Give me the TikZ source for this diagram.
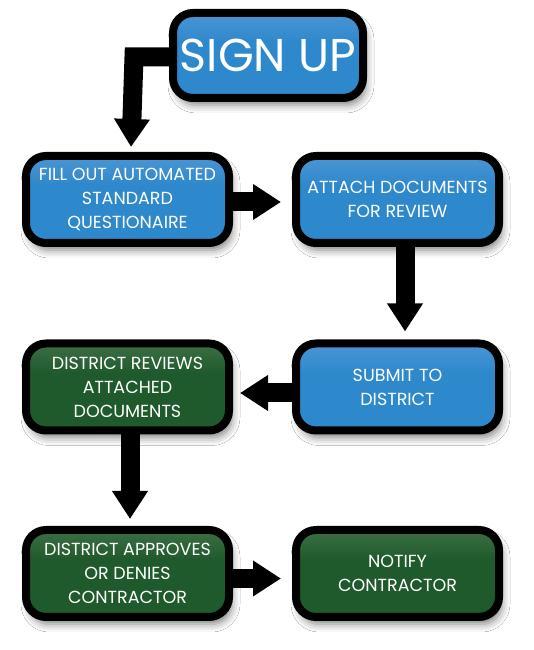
\documentclass[tikz,border=0pt]{standalone}
\usepackage{fontspec}
\setmainfont{Poppins}
\usetikzlibrary{arrows.meta,shadows.blur,calc}
\definecolor{blueD}{HTML}{2E88CC}
\definecolor{blueL}{HTML}{74AADF}
\definecolor{greenD}{HTML}{1F5A2C}
\definecolor{greenL}{HTML}{668E66}
\pgfdeclareverticalshading{blueshade}{100bp}{color(0bp)=(blueD); color(58bp)=(blueD); color(100bp)=(blueL)}
\pgfdeclareverticalshading{greenshade}{100bp}{color(0bp)=(greenD); color(58bp)=(greenD); color(100bp)=(greenL)}
\tikzset{
  box/.style={draw=black, line width=8pt, rounded corners=20pt, minimum width=203pt, minimum height=87pt,
    text=white, align=center, font=\fontsize{17.5}{24}\selectfont, inner xsep=2pt,
    blur shadow={shadow xshift=3pt, shadow yshift=-7pt, shadow blur radius=8pt, shadow opacity=50}},
  bluebox/.style={box, shading=blueshade},
  greenbox/.style={box, shading=greenshade},
  arr/.style={line width=19pt, -{Triangle[length=28pt,width=34pt]}}
}
\begin{document}
\begin{tikzpicture}[x=1pt,y=1pt]
\fill[white] (0,0) rectangle (533,650);
\useasboundingbox (0,0) rectangle (533,650);
\node[bluebox, minimum width=190pt, minimum height=85pt, font=\fontsize{46}{50}\selectfont] (s) at (268,594.5) {SIGN UP};
\node[bluebox] (b1) at (127.5,450.5) {FILL OUT AUTOMATED\\STANDARD\\QUESTIONAIRE};
\node[bluebox] (b2) at (397.5,450.5) {ATTACH DOCUMENTS\\FOR REVIEW};
\node[bluebox] (b3) at (397.5,263) {SUBMIT TO\\DISTRICT};
\node[greenbox] (b4) at (127.5,263) {DISTRICT REVIEWS\\ATTACHED\\DOCUMENTS};
\node[greenbox] (b5) at (127.5,76.5) {DISTRICT APPROVES\\OR DENIES\\CONTRACTOR};
\node[greenbox] (b6) at (397.5,76.5) {NOTIFY\\CONTRACTOR};
\coordinate (k) at (134,593);
\draw[arr, line join=miter] ([yshift=-1.5pt]s.west) -- (k) -- ([xshift=3.5pt,yshift=5pt]b1.north);
\draw[arr] ([yshift=-2.5pt]b1.east) -- ([xshift=-11pt,yshift=-2.5pt]b2.west);
\draw[arr] ([xshift=7.5pt]b2.south) -- ([xshift=7.5pt,yshift=8pt]b3.north);
\draw[arr] ([yshift=-6pt]b3.west) -- ([xshift=7pt,yshift=-6pt]b4.east);
\draw[arr] ([xshift=2.5pt]b4.south) -- ([xshift=2.5pt,yshift=7pt]b5.north);
\draw[arr] ([yshift=-5pt]b5.east) -- ([xshift=-11pt,yshift=-5pt]b6.west);
\end{tikzpicture}
\end{document}
